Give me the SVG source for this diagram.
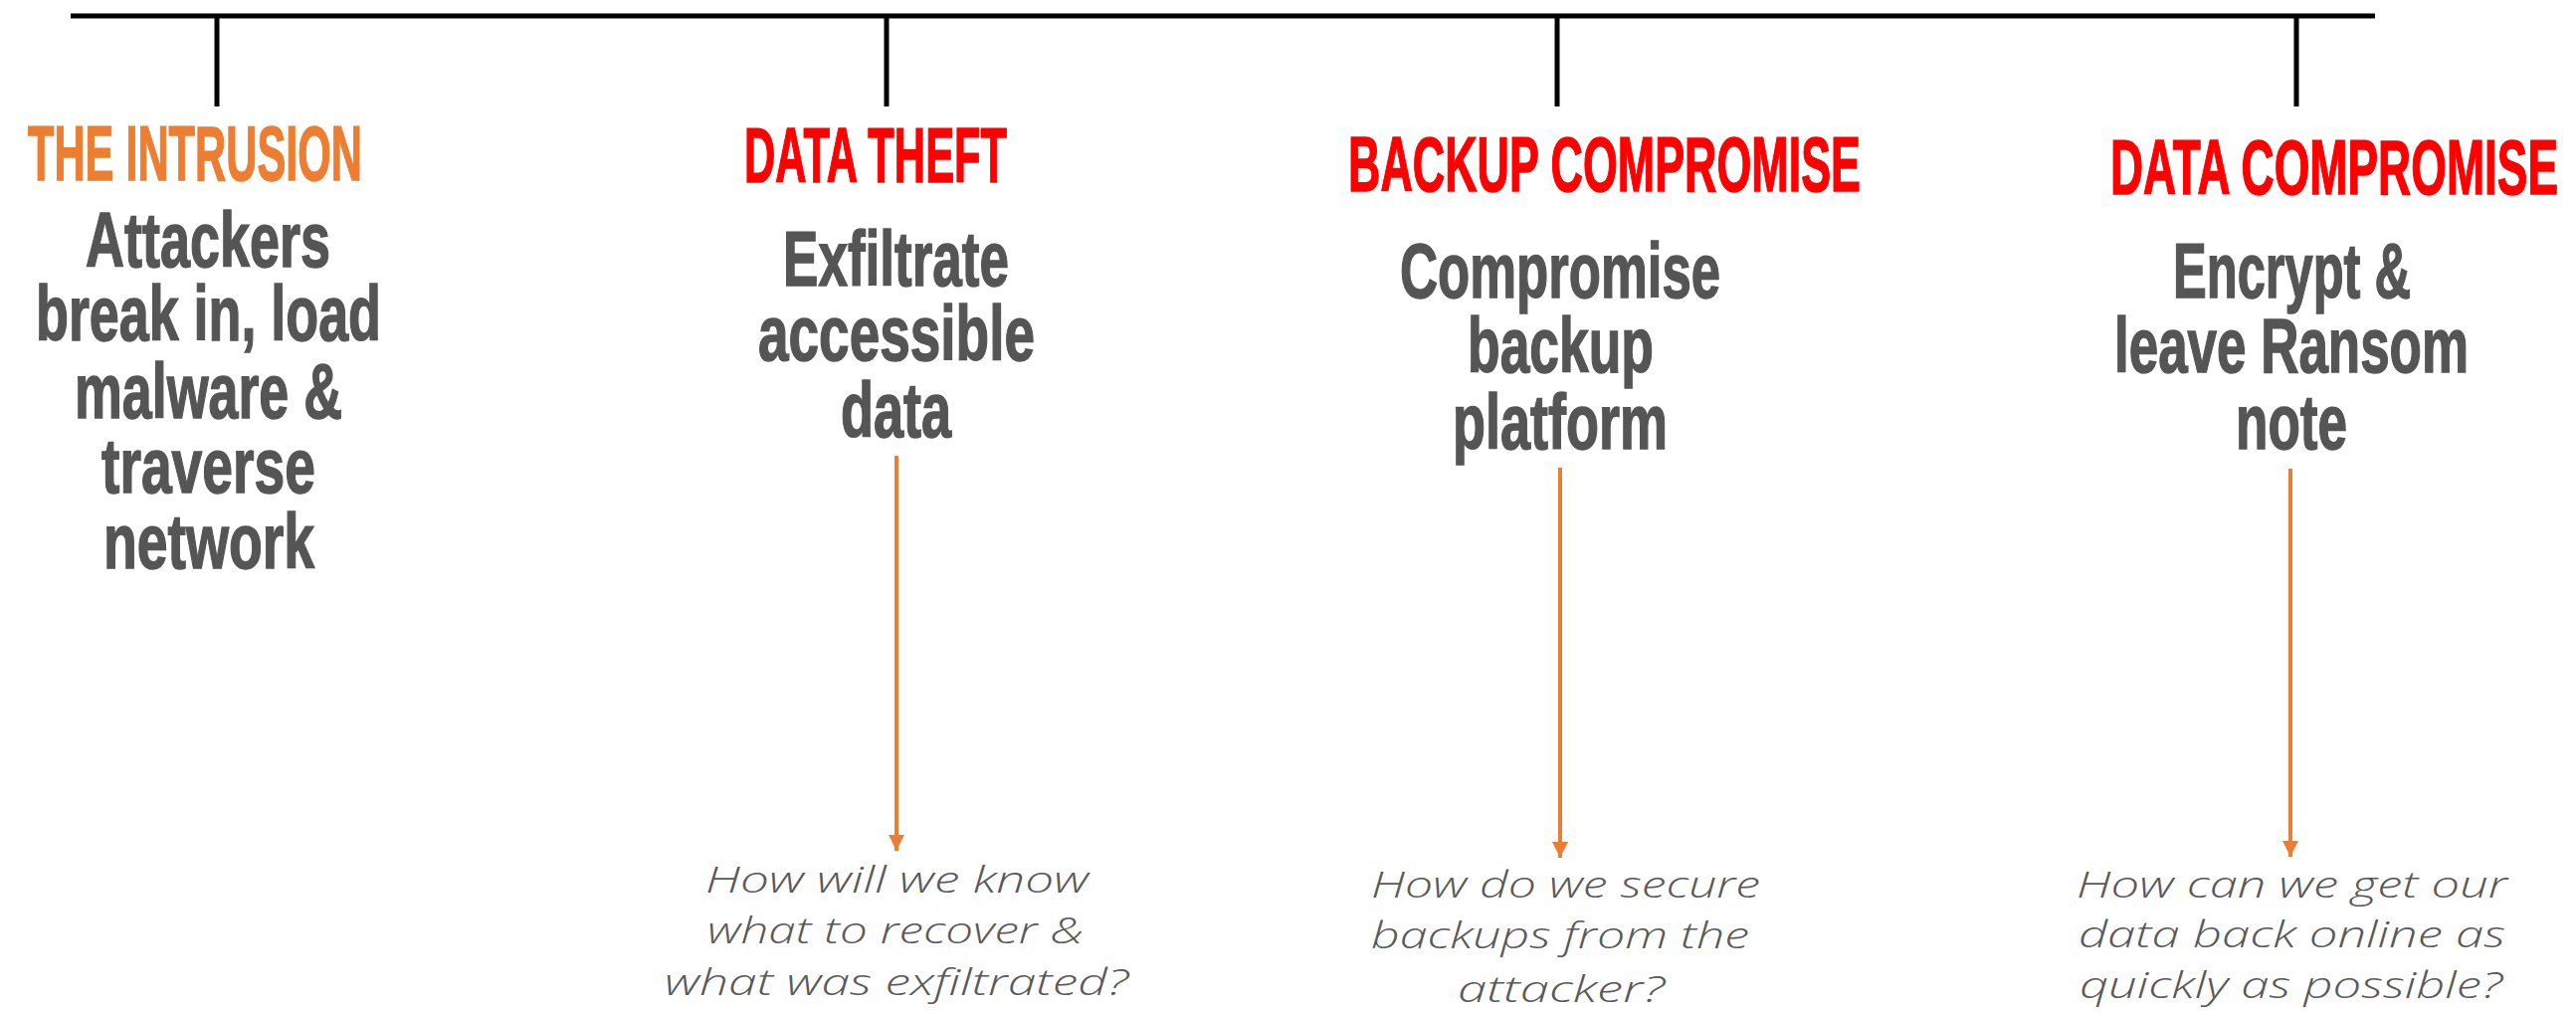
<svg xmlns="http://www.w3.org/2000/svg" width="2589" height="1016" viewBox="0 0 2589 1016">
<defs>
<style>
.hdr{font-family:"Liberation Sans",Arial,sans-serif;font-weight:bold;font-size:77px;stroke-width:1.5px}
.org{fill:#ED7D31;stroke:#ED7D31}
.red{fill:#FF0000;stroke:#FF0000}
.body{font-family:"Liberation Sans",Arial,sans-serif;font-weight:bold;font-size:78px;fill:#555555;stroke:#555555;stroke-width:1.5px}
.q{font-family:"Open Sans","Noto Sans",sans-serif;font-style:italic;font-weight:300;font-size:37px;fill:#595959}
.axis{stroke:#000;stroke-width:5;fill:none}
.arr{stroke:#ED7D31;stroke-width:4;fill:none}
</style>
<marker id="ah" viewBox="0 0 10 10" refX="10" refY="5" markerUnits="userSpaceOnUse" markerWidth="16" markerHeight="16" orient="auto">
<path d="M0,0 L10,5 L0,10 z" fill="#ED7D31"/>
</marker>
</defs>
<rect width="2589" height="1016" fill="#fff"/>
<g id="connectors">
<line class="axis" x1="71" y1="16" x2="2387" y2="16"/>
<line class="axis" x1="218" y1="16" x2="218" y2="107"/>
<line class="axis" x1="891" y1="16" x2="891" y2="107"/>
<line class="axis" x1="1565" y1="16" x2="1565" y2="107"/>
<line class="axis" x1="2308" y1="16" x2="2308" y2="107"/>
<line class="arr" x1="901" y1="458" x2="901" y2="855" marker-end="url(#ah)"/>
<line class="arr" x1="1568" y1="470" x2="1568" y2="862" marker-end="url(#ah)"/>
<line class="arr" x1="2302" y1="471" x2="2302" y2="861" marker-end="url(#ah)"/>
</g>
<g id="intrusion">
<text class="hdr org" x="28" y="181" textLength="336" lengthAdjust="spacingAndGlyphs">THE INTRUSION</text>
<text class="body" x="86" y="268" textLength="246" lengthAdjust="spacingAndGlyphs">Attackers</text>
<text class="body" x="36" y="342" textLength="347" lengthAdjust="spacingAndGlyphs">break in, load</text>
<text class="body" x="75" y="420" textLength="269" lengthAdjust="spacingAndGlyphs">malware &amp;</text>
<text class="body" x="102" y="495" textLength="215" lengthAdjust="spacingAndGlyphs">traverse</text>
<text class="body" x="104" y="571" textLength="212" lengthAdjust="spacingAndGlyphs">network</text>
</g>
<g id="data-theft">
<text class="hdr red" x="748" y="183" textLength="264" lengthAdjust="spacingAndGlyphs">DATA THEFT</text>
<text class="body" x="787" y="287" textLength="227" lengthAdjust="spacingAndGlyphs">Exfiltrate</text>
<text class="body" x="762" y="362" textLength="278" lengthAdjust="spacingAndGlyphs">accessible</text>
<text class="body" x="845" y="439" textLength="111" lengthAdjust="spacingAndGlyphs">data</text>
<text class="q" x="709" y="897" textLength="385" lengthAdjust="spacingAndGlyphs">How will we know</text>
<text class="q" x="711" y="948" textLength="378" lengthAdjust="spacingAndGlyphs">what to recover &amp;</text>
<text class="q" x="668" y="1000" textLength="466" lengthAdjust="spacingAndGlyphs">what was exfiltrated?</text>
</g>
<g id="backup-compromise">
<text class="hdr red" x="1355" y="192" textLength="515" lengthAdjust="spacingAndGlyphs">BACKUP COMPROMISE</text>
<text class="body" x="1407" y="299" textLength="322" lengthAdjust="spacingAndGlyphs">Compromise</text>
<text class="body" x="1475" y="374" textLength="187" lengthAdjust="spacingAndGlyphs">backup</text>
<text class="body" x="1460" y="451" textLength="216" lengthAdjust="spacingAndGlyphs">platform</text>
<text class="q" x="1378" y="902" textLength="391" lengthAdjust="spacingAndGlyphs">How do we secure</text>
<text class="q" x="1378" y="953" textLength="380" lengthAdjust="spacingAndGlyphs">backups from the</text>
<text class="q" x="1465" y="1007" textLength="208" lengthAdjust="spacingAndGlyphs">attacker?</text>
</g>
<g id="data-compromise">
<text class="hdr red" x="2121" y="195" textLength="450" lengthAdjust="spacingAndGlyphs">DATA COMPROMISE</text>
<text class="body" x="2184" y="299" textLength="239" lengthAdjust="spacingAndGlyphs">Encrypt &amp;</text>
<text class="body" x="2125" y="374" textLength="356" lengthAdjust="spacingAndGlyphs">leave Ransom</text>
<text class="body" x="2247" y="451" textLength="112" lengthAdjust="spacingAndGlyphs">note</text>
<text class="q" x="2087" y="902" textLength="433" lengthAdjust="spacingAndGlyphs">How can we get our</text>
<text class="q" x="2089" y="952" textLength="429" lengthAdjust="spacingAndGlyphs">data back online as</text>
<text class="q" x="2090" y="1003" textLength="425" lengthAdjust="spacingAndGlyphs">quickly as possible?</text>
</g>
</svg>
